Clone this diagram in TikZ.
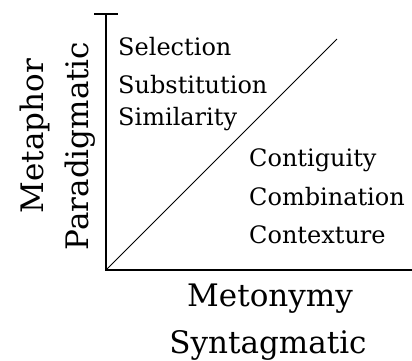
\documentclass[tikz,border=0pt]{standalone}
\usepackage{fontspec}
\setmainfont{DejaVu Serif}
\begin{document}
\begin{tikzpicture}[x=1pt,y=-1pt,
  axis/.style={line width=1.8pt},
  diag/.style={line width=0.9pt},
  lbl/.style={anchor=base west,inner sep=0pt,font=\fontsize{24}{24}\selectfont},
  big/.style={anchor=base,inner sep=0pt,font=\fontsize{31}{31}\selectfont}]
\useasboundingbox (0,0) rectangle (412,360);
\coordinate (top) at (106,14);
\coordinate (origin) at (106,270);
\coordinate (right) at (412,270);
\coordinate (tl) at (94,14);
\coordinate (tr) at (118,14);
\coordinate (dend) at (337,39);
\draw[axis] (tl) -- (tr);
\draw[axis] (top) -- (origin) -- (right);
\draw[diag] (origin) -- (dend);
\node[lbl] (sel) at (118,55) {Selection};
\node[lbl] (sub) at (118,93) {Substitution};
\node[lbl] (sim) at (118,125) {Similarity};
\node[lbl] (con) at (249,166) {Contiguity};
\node[lbl] (com) at (249,205) {Combination};
\node[lbl] (ctx) at (249,243) {Contexture};
\node[big] (met) at (270,306) {Metonymy};
\node[big] (syn) at (268,353) {Syntagmatic};
\node[big,rotate=90] (mph) at (43,136) {Metaphor};
\node[big,rotate=90] (par) at (88,146) {Paradigmatic};
\end{tikzpicture}
\end{document}
